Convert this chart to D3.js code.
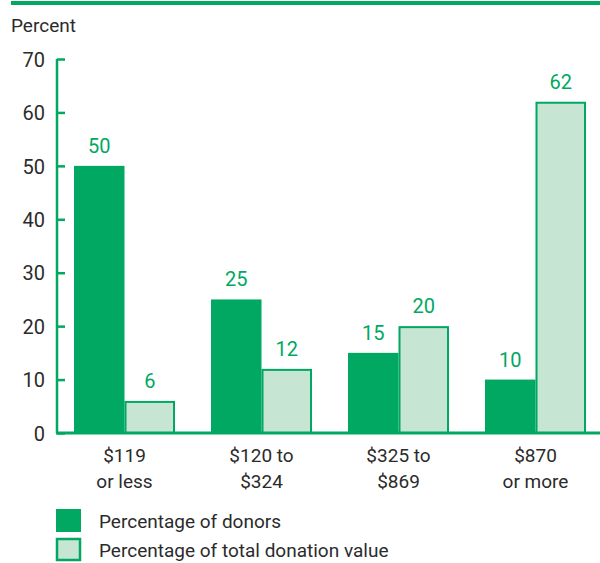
<!DOCTYPE html>
<html>
<head>
<meta charset="utf-8">
<script src="https://cdn.jsdelivr.net/npm/d3@7"></script>
<style>
  body { margin: 0; background: #fff; }
  svg text { font-family: "Liberation Sans Narrow", "Roboto", sans-serif; }
</style>
</head>
<body>
<svg id="chart" width="600" height="563"></svg>
<script>
const categories = [["$119", "or less"], ["$120 to", "$324"], ["$325 to", "$869"], ["$870", "or more"]]
const donors = [50, 25, 15, 10]
const donationValue = [6, 12, 20, 62]
const yTicks = [0, 10, 20, 30, 40, 50, 60, 70]
const seriesNames = ["Percentage of donors", "Percentage of total donation value"]

const green = "#00a862"
const lightGreen = "#c7e5d3"
const textColor = "#2b2b2b"

const svg = d3.select("#chart")

// top rule
svg.append("rect").attr("x", 11).attr("y", 1).attr("width", 589).attr("height", 4).attr("fill", green)

svg.append("text").attr("x", 11).attr("y", 32)
  .attr("font-size", 19).attr("fill", textColor).text("Percent")

const y = d3.scaleLinear().domain([0, 70]).range([433, 59])
// groups at 74, 212, 347, 485 with bars 50px wide
const groupX = d3.scaleLinear().domain([0, 3]).range([74, 485])
const barW = 50.5

// y axis
const yAxis = d3.axisLeft(y).tickValues(yTicks).tickSize(-8).tickPadding(12)
const gy = svg.append("g").attr("transform", "translate(57,0)").call(yAxis)
gy.select(".domain").attr("stroke", green).attr("stroke-width", 2.5).attr("d", `M0,${y(70)}V${y(0)}`)
gy.selectAll(".tick line").attr("stroke", green).attr("stroke-width", 2.5)
gy.selectAll(".tick text").attr("font-size", 20).attr("fill", textColor)
  .attr("font-family", "Liberation Sans Narrow, Roboto, sans-serif").attr("dy", "0.36em")

// donors bars
svg.append("g").selectAll("rect").data(donors).join("rect")
  .attr("x", (d, i) => groupX(i))
  .attr("y", d => y(d))
  .attr("width", barW)
  .attr("height", d => y(0) - y(d))
  .attr("fill", green)

// donation value bars
svg.append("g").selectAll("rect").data(donationValue).join("rect")
  .attr("x", (d, i) => groupX(i) + barW + 1)
  .attr("y", d => y(d) + 1)
  .attr("width", barW - 2)
  .attr("height", d => y(0) - y(d) - 1)
  .attr("fill", lightGreen)
  .attr("stroke", green).attr("stroke-width", 2)

// value labels
svg.append("g").selectAll("text").data(donors).join("text")
  .attr("x", (d, i) => groupX(i) + barW / 2)
  .attr("y", d => y(d) - 13)
  .attr("text-anchor", "middle").attr("font-size", 20).attr("fill", green)
  .text(d => d)
svg.append("g").selectAll("text").data(donationValue).join("text")
  .attr("x", (d, i) => groupX(i) + barW * 1.5)
  .attr("y", d => y(d) - 13)
  .attr("text-anchor", "middle").attr("font-size", 20).attr("fill", green)
  .text(d => d)

// x baseline
svg.append("line").attr("x1", 56).attr("x2", 600).attr("y1", y(0)).attr("y2", y(0))
  .attr("stroke", green).attr("stroke-width", 3)

// category labels
const cat = svg.append("g").selectAll("text").data(categories).join("text")
  .attr("text-anchor", "middle").attr("font-size", 19).attr("fill", textColor)
cat.selectAll("tspan").data((d, i) => d.map(t => ({ t, i }))).join("tspan")
  .attr("x", d => groupX(d.i) + barW)
  .attr("y", (d, j) => 462 + j * 26)
  .text(d => d.t)

// legend
const legend = svg.append("g").selectAll("g").data(seriesNames).join("g")
  .attr("transform", (d, i) => `translate(56,${509 + i * 29})`)
legend.append("rect")
  .attr("x", (d, i) => i ? 1 : 0).attr("y", (d, i) => i ? 1 : 0)
  .attr("width", (d, i) => i ? 23 : 25).attr("height", (d, i) => i ? 21 : 23)
  .attr("fill", (d, i) => i ? lightGreen : green)
  .attr("stroke", (d, i) => i ? green : "none").attr("stroke-width", 2.5)
legend.append("text").attr("x", 43).attr("y", 19)
  .attr("font-size", 19).attr("fill", textColor).text(d => d)
</script>
</body>
</html>
